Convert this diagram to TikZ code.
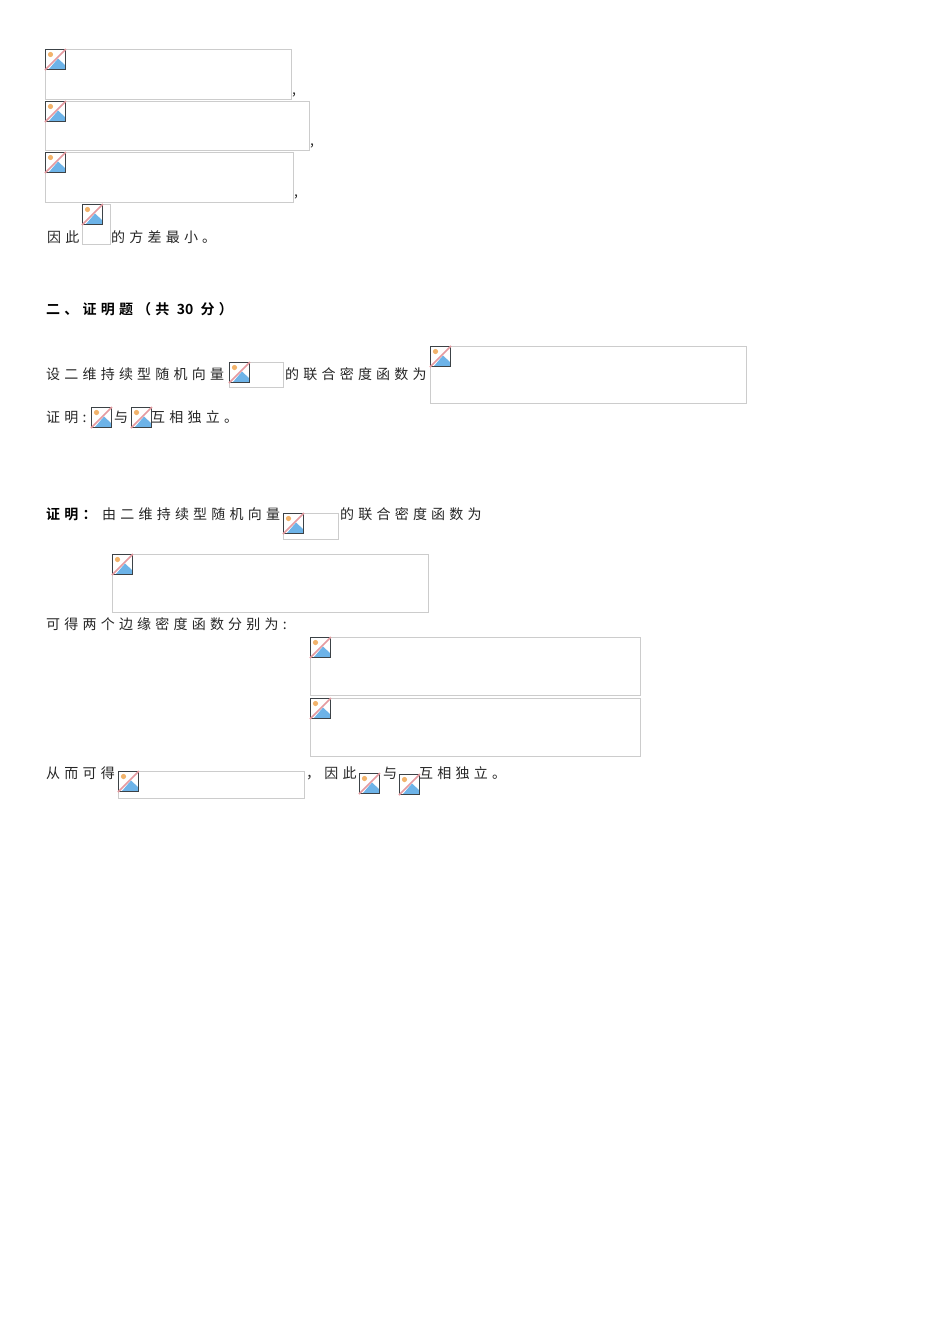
\documentclass[tikz,border=0pt]{standalone}
\usepackage{fontspec}
\newfontfamily\cjk[LetterSpace=30]{Noto Sans CJK SC}
\newfontfamily\cjkb[LetterSpace=30]{Noto Sans CJK SC Bold}
\newfontfamily\cjkh{Noto Sans CJK SC Bold}
\definecolor{boxgray}{HTML}{CCCCCC}
\definecolor{icondark}{HTML}{3C4246}
\definecolor{iconblue}{HTML}{6DB3E8}
\definecolor{iconorange}{HTML}{F2B36B}
\definecolor{iconpink}{HTML}{E59AA0}
\tikzset{
  x=1pt,y=-1pt,
  txt/.style={anchor=west,inner sep=0pt,font=\cjk\fontsize{14}{14}\selectfont,text=black!85},
  btxt/.style={anchor=west,inner sep=0pt,font=\cjkb\fontsize{14}{14}\selectfont,text=black},
  imgbox/.style={draw=boxgray,line width=0.8pt,fill=white},
  brokenicon/.pic={
    \fill[white] (0,0) rectangle (21,21);
    \fill[iconblue] (4,20) -- (13,9.5) -- (20,16) -- (20,20) -- cycle;
    \fill[iconorange] (5.5,5.5) circle (2.6);
    \draw[white,line width=2.4pt] (0,20) -- (20,0);
    \draw[icondark,line width=1.2pt] (0.6,0.6) rectangle (20.4,20.4);
    \draw[iconpink,line width=1.5pt] (0,21) -- (21,0);
  }
}
\newcommand{\imgbox}[5]{%
  \node[imgbox,inner sep=0pt,outer sep=0pt,anchor=north west,minimum width=#4pt,minimum height=#5pt] (#1) at (#2,#3) {};
  \pic at (#2,#3) {brokenicon};}
\begin{document}
\begin{tikzpicture}
\useasboundingbox (0,0) rectangle (950,1344);
\fill[white] (0,0) rectangle (950,1344);
\imgbox{a}{45}{49}{246}{50}
\node[txt] (ac) at (292,95) {,};
\imgbox{b}{45}{101}{264}{49}
\node[txt] (bc) at (310,146) {,};
\imgbox{c}{45}{152}{248}{50}
\node[txt] (cc) at (294,197) {,};
\imgbox{d}{82}{204}{28}{40}
\node[txt] (t1) at (47,237) {因此};
\node[txt] (t2) at (111,237) {的方差最小。};
\node[btxt] (h) at (46,309) {二、证明题（共 {\cjkh 30} 分）};
\node[txt] (t3) at (46,374) {设二维持续型随机向量};
\imgbox{e}{229}{362}{54}{25}
\node[txt] (t4) at (285,374) {的联合密度函数为};
\imgbox{f}{430}{346}{316}{57}
\node[txt] (t5) at (46,417) {证明:};
\pic at (91,407) {brokenicon};
\node[txt] (t6) at (114,417) {与};
\pic at (131,407) {brokenicon};
\node[txt] (t7) at (151,417) {互相独立。};
\node[btxt] (t8) at (46,514) {证明：};
\node[txt] (t9) at (102,514) {由二维持续型随机向量};
\imgbox{g}{283}{513}{55}{26}
\node[txt] (t10) at (340,514) {的联合密度函数为};
\imgbox{i}{112}{554}{316}{58}
\node[txt] (t11) at (46,624) {可得两个边缘密度函数分别为:};
\imgbox{j}{310}{637}{330}{58}
\imgbox{k}{310}{698}{330}{58}
\node[txt] (t12) at (46,773) {从而可得};
\imgbox{l}{118}{771}{186}{27}
\node[txt] (t13) at (306,773) {，因此};
\pic at (359,773) {brokenicon};
\node[txt] (t14) at (383,773) {与};
\pic at (399,774) {brokenicon};
\node[txt] (t15) at (419,773) {互相独立。};
\end{tikzpicture}
\end{document}
